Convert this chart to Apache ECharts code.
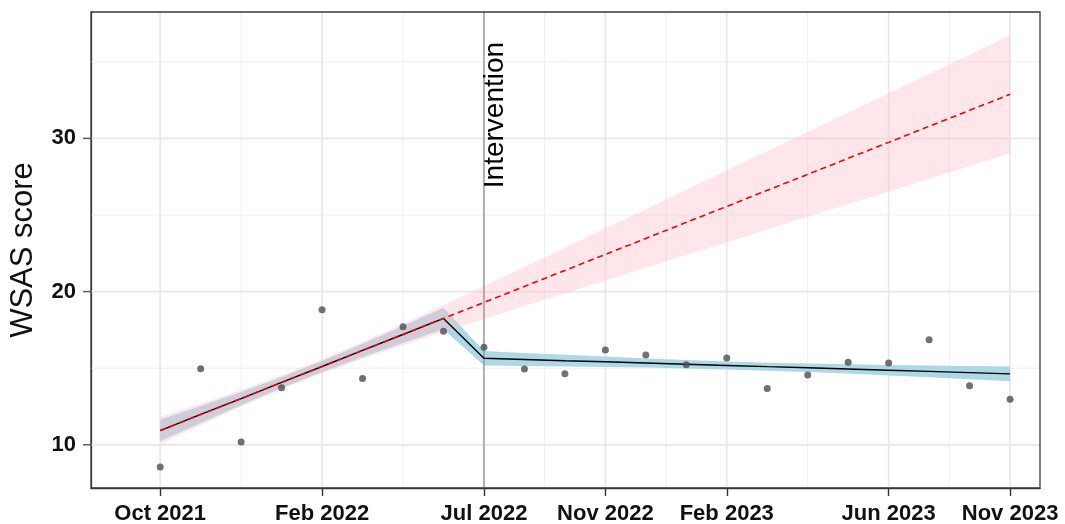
<!DOCTYPE html>
<html>
<head>
<meta charset="utf-8">
<script src="https://cdn.jsdelivr.net/npm/echarts@6/dist/echarts.min.js"></script>
<style>
  html, body { margin: 0; padding: 0; background: #fff; }
  #chart { width: 1065px; height: 524px; }
</style>
</head>
<body>
<div id="chart"></div>
<script>
// Monthly assessment index (0 = Oct 2021)
const period = [0, 1, 2, 3, 4, 5, 6, 7, 8, 9, 10, 11, 12, 13, 14, 15, 16, 17, 18, 19, 20, 21];

// Observed mean WSAS scores
const observed = [8.55, 14.97, 10.18, 13.73, 18.81, 14.32, 17.71, 17.41, 16.36, 14.95, 14.63,
                  16.19, 15.86, 15.23, 15.67, 13.67, 14.56, 15.39, 15.34, 16.86, 13.86, 12.98];

// Segmented regression fit with its confidence band
const fitted   = [10.93, 11.98, 13.02, 14.07, 15.11, 16.16, 17.20, 18.25, 15.65, 15.57, 15.49,
                  15.42, 15.34, 15.26, 15.18, 15.10, 15.03, 14.95, 14.87, 14.79, 14.71, 14.63];
const fittedLo = [10.23, 11.42, 12.59, 13.71, 14.75, 15.73, 16.64, 17.55, 15.17, 15.14, 15.11,
                  15.08, 15.04, 14.98, 14.92, 14.84, 14.75, 14.65, 14.53, 14.41, 14.28, 14.15];
const fittedHi = [11.63, 12.54, 13.45, 14.43, 15.47, 16.59, 17.76, 18.95, 16.13, 16.00, 15.87,
                  15.76, 15.64, 15.54, 15.44, 15.36, 15.31, 15.25, 15.21, 15.17, 15.14, 15.11];

// Counterfactual (pre-intervention trend continued) with its confidence band
const counterfactual = [10.93, 11.98, 13.02, 14.07, 15.11, 16.16, 17.20, 18.25, 19.29, 20.34, 21.38,
                        22.43, 23.47, 24.52, 25.56, 26.61, 27.65, 28.70, 29.74, 30.79, 31.83, 32.88];
const cfLo = [10.05, 11.28, 12.48, 13.62, 14.66, 15.62, 16.50, 17.37, 18.21, 19.06, 19.89,
              20.73, 21.56, 22.40, 23.22, 24.06, 24.88, 25.72, 26.54, 27.37, 28.20, 29.03];
const cfHi = [11.81, 12.68, 13.57, 14.52, 15.56, 16.71, 17.90, 19.13, 20.37, 21.62, 22.87,
              24.13, 25.38, 26.64, 27.90, 29.16, 30.42, 31.68, 32.94, 34.21, 35.46, 36.73];

// Axis breaks
const tickIdx  = [0, 4, 8, 11, 14, 18, 21];
const tickText = ['Oct 2021', 'Feb 2022', 'Jul 2022', 'Nov 2022', 'Feb 2023', 'Jun 2023', 'Nov 2023'];
const minorIdx = [2, 6, 9.5, 12.5, 16, 19.5];
const yMajor = [10, 20, 30];
const yMinor = [15, 25, 35];

const interventionIdx = 8;
const interventionText = 'Intervention';

const X_MIN = -1.71, X_MAX = 21.74, Y_MIN = 7.18, Y_MAX = 38.25;
const FONT = '"Liberation Sans", Arial, Helvetica, sans-serif';
const FRAME = '#3a3a3a';
const TICK_LEN = 8;

function pairs(xs, ys) { return xs.map((x, i) => [x, ys[i]]); }

// Filled ribbon between lo and hi, drawn as one polygon
function band(name, lo, hi, fill, z) {
  return {
    type: 'custom', name, z, silent: true,
    data: period.map((x, i) => [x, lo[i], hi[i]]),
    encode: { x: 0, y: [1, 2] },
    renderItem(params, api) {
      if (params.dataIndex !== 0) return null;
      const top = period.map((x, i) => api.coord([x, hi[i]]));
      const bot = period.map((x, i) => api.coord([x, lo[i]])).reverse();
      return { type: 'polygon', shape: { points: top.concat(bot) }, style: { fill } };
    }
  };
}

// Full-height or full-width reference lines
function vLines(name, xs, stroke, width, z) {
  return {
    type: 'custom', name, z, silent: true,
    data: xs.map(x => [x, Y_MIN]),
    encode: { x: 0, y: 1 },
    renderItem(params, api) {
      const cs = params.coordSys;
      const x = api.coord([api.value(0), Y_MIN])[0];
      return { type: 'line', shape: { x1: x, y1: cs.y, x2: x, y2: cs.y + cs.height },
               style: { stroke, lineWidth: width } };
    }
  };
}
function hLines(name, ys, stroke, width, z) {
  return {
    type: 'custom', name, z, silent: true,
    data: ys.map(y => [X_MIN, y]),
    encode: { x: 0, y: 1 },
    renderItem(params, api) {
      const cs = params.coordSys;
      const y = api.coord([X_MIN, api.value(1)])[1];
      return { type: 'line', shape: { x1: cs.x, y1: y, x2: cs.x + cs.width, y2: y },
               style: { stroke, lineWidth: width } };
    }
  };
}

const chart = echarts.init(document.getElementById('chart'), null, { renderer: 'canvas' });

chart.setOption({
  animation: false,
  backgroundColor: '#ffffff',
  grid: {
    left: 91, right: 25, top: 12, bottom: 36,
    outerBoundsMode: 'none', containLabel: false,
    show: true, borderColor: FRAME, borderWidth: 1.3, backgroundColor: 'transparent', z: 10
  },
  xAxis: {
    type: 'value', min: X_MIN, max: X_MAX,
    splitLine: { show: false },
    axisLine: { show: true, onZero: false, lineStyle: { color: FRAME, width: 1.3 } },
    axisTick: { show: true, customValues: tickIdx, length: TICK_LEN, lineStyle: { color: '#333', width: 1.4 } },
    axisLabel: {
      customValues: tickIdx,
      formatter: v => tickText[tickIdx.indexOf(v)] || '',
      fontFamily: FONT, fontSize: 22, fontWeight: 'bold', color: '#111', margin: 15
    }
  },
  yAxis: {
    type: 'value', min: Y_MIN, max: Y_MAX,
    name: 'WSAS score', nameLocation: 'middle', nameRotate: 90, nameGap: 52,
    nameTextStyle: { fontFamily: FONT, fontSize: 31, color: '#111' },
    splitLine: { show: false },
    axisLine: { show: true, onZero: false, lineStyle: { color: FRAME, width: 1.3 } },
    axisTick: { show: false },
    axisLabel: {
      customValues: yMajor,
      fontFamily: FONT, fontSize: 22, fontWeight: 'bold', color: '#111', margin: 15
    }
  },
  series: [
    vLines('minor x grid', minorIdx, '#efefef', 1, 1),
    hLines('minor y grid', yMinor, '#efefef', 1, 1),
    vLines('major x grid', tickIdx, '#e8e8e8', 1.7, 2),
    hLines('major y grid', yMajor, '#e8e8e8', 1.7, 2),
    band('fit band', fittedLo, fittedHi, '#add8e6', 3),
    band('counterfactual band', cfLo, cfHi, 'rgba(255,192,203,0.4)', 4),
    vLines('intervention', [interventionIdx], '#8a8a8a', 1.2, 5),
    {
      type: 'custom', name: 'intervention label', z: 6, silent: true,
      data: [[interventionIdx, 36.3]],
      encode: { x: 0, y: 1 },
      renderItem(params, api) {
        const p = api.coord([api.value(0), api.value(1)]);
        return {
          type: 'text', x: p[0] - 3, y: p[1], rotation: Math.PI / 2,
          style: { text: interventionText, fontFamily: FONT, fontSize: 28, fill: '#000',
                   align: 'right', verticalAlign: 'top' }
        };
      }
    },
    {
      type: 'line', name: 'fitted', z: 7, data: pairs(period, fitted),
      symbol: 'none', lineStyle: { color: '#000', width: 1.4 }, silent: true
    },
    {
      type: 'line', name: 'counterfactual', z: 8, data: pairs(period, counterfactual),
      symbol: 'none', lineStyle: { color: '#ff0000', width: 1.6, type: [6, 4] }, silent: true
    },
    {
      type: 'scatter', name: 'observed', z: 9, data: pairs(period, observed),
      symbolSize: 7, itemStyle: { color: '#4d4d4d' }, silent: true
    },
    {
      // outward tick marks on the left edge of the panel
      type: 'scatter', name: 'y ticks', z: 11, silent: true, clip: false,
      data: yMajor.map(y => [X_MIN, y]),
      symbol: 'rect', symbolSize: [TICK_LEN, 1.5], symbolOffset: [-TICK_LEN / 2, 0],
      itemStyle: { color: '#333' }
    }
  ]
});
</script>
</body>
</html>
